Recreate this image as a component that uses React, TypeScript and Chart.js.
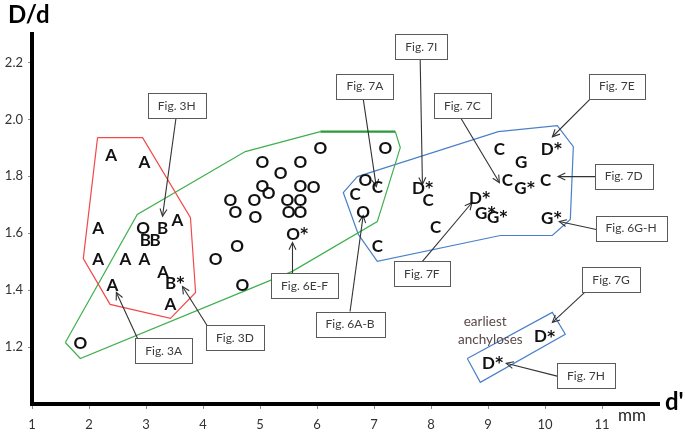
import React, { useEffect, useRef } from 'react';
import { Chart, registerables } from 'chart.js';

Chart.register(...registerables);

type P = [number, number];

const FONT = 'Lato, "Open Sans", "Liberation Sans", sans-serif';

// ---- axes ----
const X_TICKS = [1, 2, 3, 4, 5, 6, 7, 8, 9, 10, 11];
const Y_TICKS = [1.2, 1.4, 1.6, 1.8, 2.0, 2.2];
const X_RANGE: P = [1, 12];
const Y_RANGE: P = [1.0, 2.3];

// ---- data points (d' in mm, D/d) ----
const A_PTS: P[] = [
  [2.39, 1.876], [2.97, 1.852], [2.16, 1.62], [3.55, 1.648], [2.16, 1.511],
  [2.64, 1.511], [2.97, 1.511], [3.3, 1.466], [2.41, 1.42], [3.43, 1.353],
];
const B_PTS: P[] = [[3.29, 1.62], [2.99, 1.578], [3.16, 1.578]];
const B_STAR_PTS: P[] = [[3.43, 1.427]];
const O_PTS: P[] = [
  [2.95, 1.62], [1.85, 1.216], [4.22, 1.511], [6.06, 1.901], [5.04, 1.852],
  [5.71, 1.852], [5.36, 1.813], [5.04, 1.767], [5.15, 1.743], [5.71, 1.767],
  [5.94, 1.764], [4.48, 1.718], [4.9, 1.718], [5.48, 1.718], [5.71, 1.718],
  [4.57, 1.676], [4.92, 1.659], [5.5, 1.676], [5.71, 1.676], [4.6, 1.557],
  [4.69, 1.42], [7.2, 1.901], [6.85, 1.788], [6.81, 1.676],
];
const O_STAR_PTS: P[] = [[5.58, 1.599]];
const C_PTS: P[] = [
  [6.67, 1.739], [7.06, 1.764], [7.06, 1.557], [7.95, 1.718], [8.08, 1.624],
  [9.2, 1.897], [9.34, 1.788], [10.01, 1.788],
];
const D_STAR_PTS: P[] = [[7.78, 1.76], [8.78, 1.725], [10.04, 1.897], [9.92, 1.238], [9.01, 1.146]];
const G_PTS: P[] = [[9.58, 1.852]];
const G_STAR_PTS: P[] = [[9.57, 1.76], [8.88, 1.673], [9.09, 1.659], [10.04, 1.655]];

// ---- hull outlines ----
const RED_HULL: P[] = [
  [2.15, 1.936], [2.94, 1.936], [3.78, 1.655], [3.87, 1.392], [3.43, 1.301],
  [2.37, 1.35], [1.9, 1.511], [2.15, 1.936],
];
const GREEN_HULL: P[] = [
  [1.585, 1.216], [1.847, 1.16], [5.566, 1.466], [7.058, 1.641], [7.461, 1.901],
  [7.374, 1.957], [6.058, 1.957], [4.742, 1.887], [2.847, 1.666], [1.585, 1.216],
];
const BLUE_HULL: P[] = [
  [6.707, 1.799], [6.461, 1.743], [6.725, 1.596], [7.058, 1.501], [9.216, 1.592],
  [10.128, 1.592], [10.444, 1.648], [10.497, 1.904], [10.216, 1.978], [9.181, 1.957],
  [6.707, 1.799],
];
const EARLIEST_BOX: P[] = [[8.637, 1.16], [8.865, 1.076], [10.356, 1.245], [10.128, 1.322], [8.637, 1.16]];

// ---- callouts: label, box centre, arrow start, arrow tip (data units) ----
const CALLOUT_TEXT = [
  'Fig. 3H', 'Fig. 3A', 'Fig. 3D', 'Fig. 6E-F', 'Fig. 6A-B', 'Fig. 7F', 'Fig. 7A',
  'Fig. 7I', 'Fig. 7C', 'Fig. 7E', 'Fig. 7D', 'Fig. 6G-H', 'Fig. 7G', 'Fig. 7H',
];
const CALLOUT_BOX: P[] = [
  [3.54, 2.05], [3.31, 1.187], [4.56, 1.232], [5.78, 1.415], [6.58, 1.281], [7.84, 1.457],
  [6.84, 2.117], [7.83, 2.257], [8.55, 2.05], [11.26, 2.117], [11.38, 1.801], [11.51, 1.618],
  [11.16, 1.438], [10.72, 1.099],
];
const CALLOUT_FROM: P[] = [
  [3.53, 2.01], [2.85, 1.231], [4.08, 1.273], [5.57, 1.459], [6.58, 1.325], [7.85, 1.501],
  [6.81, 2.073], [7.81, 2.213], [8.53, 2.002], [10.8, 2.073], [10.9, 1.799], [10.9, 1.613],
  [10.71, 1.395], [10.23, 1.097],
];
const CALLOUT_TO: P[] = [
  [3.29, 1.66], [2.48, 1.392], [3.64, 1.413], [5.57, 1.567], [6.81, 1.662], [8.72, 1.708],
  [7.04, 1.764], [7.85, 1.771], [9.2, 1.778], [10.13, 1.939], [10.23, 1.799], [10.25, 1.641],
  [10.13, 1.287], [9.32, 1.143],
];

const NOTE_TEXT = ['earliest', 'anchyloses'];
const NOTE_POS: P[] = [[8.95, 1.29], [9.04, 1.227]];

const toXY = (arr: P[]) => arr.map(([x, y]) => ({ x, y }));

const overlayPlugin = {
  id: 'overlay',
  afterDatasetsDraw(chart: any) {
    const ctx: CanvasRenderingContext2D = chart.ctx;
    const xs = chart.scales.x;
    const ys = chart.scales.y;
    const px = (v: number) => xs.getPixelForValue(v);
    const py = (v: number) => ys.getPixelForValue(v);
    ctx.save();

    // arrows
    ctx.strokeStyle = '#333';
    ctx.lineWidth = 1.1;
    CALLOUT_TEXT.forEach((_, i) => {
      const x1 = px(CALLOUT_FROM[i][0]);
      const y1 = py(CALLOUT_FROM[i][1]);
      const x2 = px(CALLOUT_TO[i][0]);
      const y2 = py(CALLOUT_TO[i][1]);
      ctx.beginPath();
      ctx.moveTo(x1, y1);
      ctx.lineTo(x2, y2);
      ctx.stroke();
      const a = Math.atan2(y2 - y1, x2 - x1);
      const L = 8;
      const w = 0.45;
      ctx.beginPath();
      ctx.moveTo(x2 - L * Math.cos(a - w), y2 - L * Math.sin(a - w));
      ctx.lineTo(x2, y2);
      ctx.lineTo(x2 - L * Math.cos(a + w), y2 - L * Math.sin(a + w));
      ctx.stroke();
    });

    // boxes
    ctx.font = `12px ${FONT}`;
    ctx.textAlign = 'center';
    ctx.textBaseline = 'middle';
    CALLOUT_TEXT.forEach((t, i) => {
      const cx = px(CALLOUT_BOX[i][0]);
      const cy = py(CALLOUT_BOX[i][1]);
      const w = Math.round(ctx.measureText(t).width + 20);
      const h = 25;
      const l = Math.round(cx - w / 2) + 0.5;
      const tp = Math.round(cy - h / 2) + 0.5;
      ctx.fillStyle = '#fff';
      ctx.fillRect(l, tp, w, h);
      ctx.strokeStyle = '#5a5a5a';
      ctx.lineWidth = 1;
      ctx.strokeRect(l, tp, w, h);
      ctx.fillStyle = '#3c3c3c';
      ctx.fillText(t, cx, cy + 0.5);
    });

    // notes
    ctx.font = `13.5px ${FONT}`;
    ctx.fillStyle = '#5a4848';
    NOTE_TEXT.forEach((t, i) => {
      ctx.fillText(t, px(NOTE_POS[i][0]), py(NOTE_POS[i][1]));
    });

    // letters
    chart.data.datasets.forEach((ds: any, i: number) => {
      if (!ds.letter) return;
      const meta = chart.getDatasetMeta(i);
      meta.data.forEach((el: any) => {
        const x = el.x;
        const y = el.y;
        ctx.font = `bold 17px ${FONT}`;
        ctx.fillStyle = '#111';
        ctx.textAlign = 'center';
        ctx.textBaseline = 'alphabetic';
        const w = ctx.measureText(ds.letter).width;
        ctx.fillText(ds.letter, x, y + 6.2);
        if (ds.star) {
          ctx.font = 'bold 15px "DejaVu Sans", sans-serif';
          ctx.textAlign = 'left';
          ctx.fillText('*', x + w / 2 + 0.3, y + 5.5);
        }
      });
    });
    ctx.restore();
  },
  afterDraw(chart: any) {
    const ctx: CanvasRenderingContext2D = chart.ctx;
    const ca = chart.chartArea;
    ctx.save();
    ctx.fillStyle = '#000';
    ctx.textAlign = 'left';
    ctx.textBaseline = 'alphabetic';
    ctx.font = `bold 24px ${FONT}`;
    ctx.fillText('D/d', 8, 23);
    ctx.fillText("d'", ca.right + 6, ca.bottom + 6);
    ctx.font = `17px ${FONT}`;
    ctx.fillStyle = '#222';
    ctx.fillText('mm', ca.right - 41, ca.bottom + 17);
    ctx.restore();
  },
};

export default function App() {
  const ref = useRef<HTMLCanvasElement | null>(null);

  useEffect(() => {
    document.body.style.margin = '0';
    const canvas = ref.current;
    if (!canvas) return;

    const hull = (pts: P[], color: string, extra: any = {}) => ({
      type: 'scatter',
      data: toXY(pts),
      showLine: true,
      borderColor: color,
      backgroundColor: color,
      borderWidth: 1.2,
      pointRadius: 0,
      tension: 0,
      fill: false,
      clip: false,
      ...extra,
    });
    const letters = (pts: P[], letter: string, star: boolean) => ({
      type: 'scatter',
      data: toXY(pts),
      letter,
      star,
      pointRadius: 0,
      pointHoverRadius: 0,
      showLine: false,
    });

    const chart = new Chart(canvas, {
      type: 'scatter',
      data: {
        datasets: [
          hull(RED_HULL, '#f24a4a'),
          hull(GREEN_HULL, '#3fb04e', {
            segment: {
              borderWidth: (c: any) => (c.p0DataIndex === 5 ? 2.2 : 1.2),
              borderColor: (c: any) => (c.p0DataIndex === 5 ? '#2a9a3a' : '#3fb04e'),
            },
          }),
          hull(BLUE_HULL, '#4a80c8'),
          hull(EARLIEST_BOX, '#4a80c8'),
          letters(A_PTS, 'A', false),
          letters(B_PTS, 'B', false),
          letters(B_STAR_PTS, 'B', true),
          letters(O_PTS, 'O', false),
          letters(O_STAR_PTS, 'O', true),
          letters(C_PTS, 'C', false),
          letters(D_STAR_PTS, 'D', true),
          letters(G_PTS, 'G', false),
          letters(G_STAR_PTS, 'G', true),
        ] as any,
      },
      options: {
        responsive: false,
        animation: false,
        events: [],
        layout: { padding: { top: 34, right: 26, bottom: 0, left: 0 } },
        plugins: { legend: { display: false }, tooltip: { enabled: false } },
        scales: {
          x: {
            type: 'linear',
            min: X_RANGE[0],
            max: X_RANGE[1],
            afterBuildTicks: (s: any) => {
              s.ticks = X_TICKS.map((v) => ({ value: v }));
            },
            afterFit: (s: any) => {
              s.height = 28;
            },
            grid: { drawOnChartArea: false, drawTicks: true, tickLength: 5, color: '#9a8a7a' },
            border: { display: true, color: '#000', width: 4 },
            ticks: {
              color: '#333',
              font: { family: FONT, size: 13 },
              padding: 8,
              maxRotation: 0,
              autoSkip: false,
              callback: (v: any) => String(v),
            },
          },
          y: {
            type: 'linear',
            min: Y_RANGE[0],
            max: Y_RANGE[1],
            afterBuildTicks: (s: any) => {
              s.ticks = Y_TICKS.map((v) => ({ value: v }));
            },
            afterFit: (s: any) => {
              s.width = 32;
            },
            grid: { drawOnChartArea: false, drawTicks: true, tickLength: 4, color: '#9a8a7a' },
            border: { display: true, color: '#000', width: 4 },
            ticks: {
              color: '#333',
              font: { family: FONT, size: 13 },
              padding: 5,
              autoSkip: false,
              callback: (v: any) => Number(v).toFixed(1),
            },
          },
        },
      } as any,
      plugins: [overlayPlugin],
    });

    return () => chart.destroy();
  }, []);

  return (
    <div style={{ position: 'absolute', left: 0, top: 0, width: 685, height: 432, background: '#fff' }}>
      <canvas ref={ref} width={685} height={432} />
    </div>
  );
}
